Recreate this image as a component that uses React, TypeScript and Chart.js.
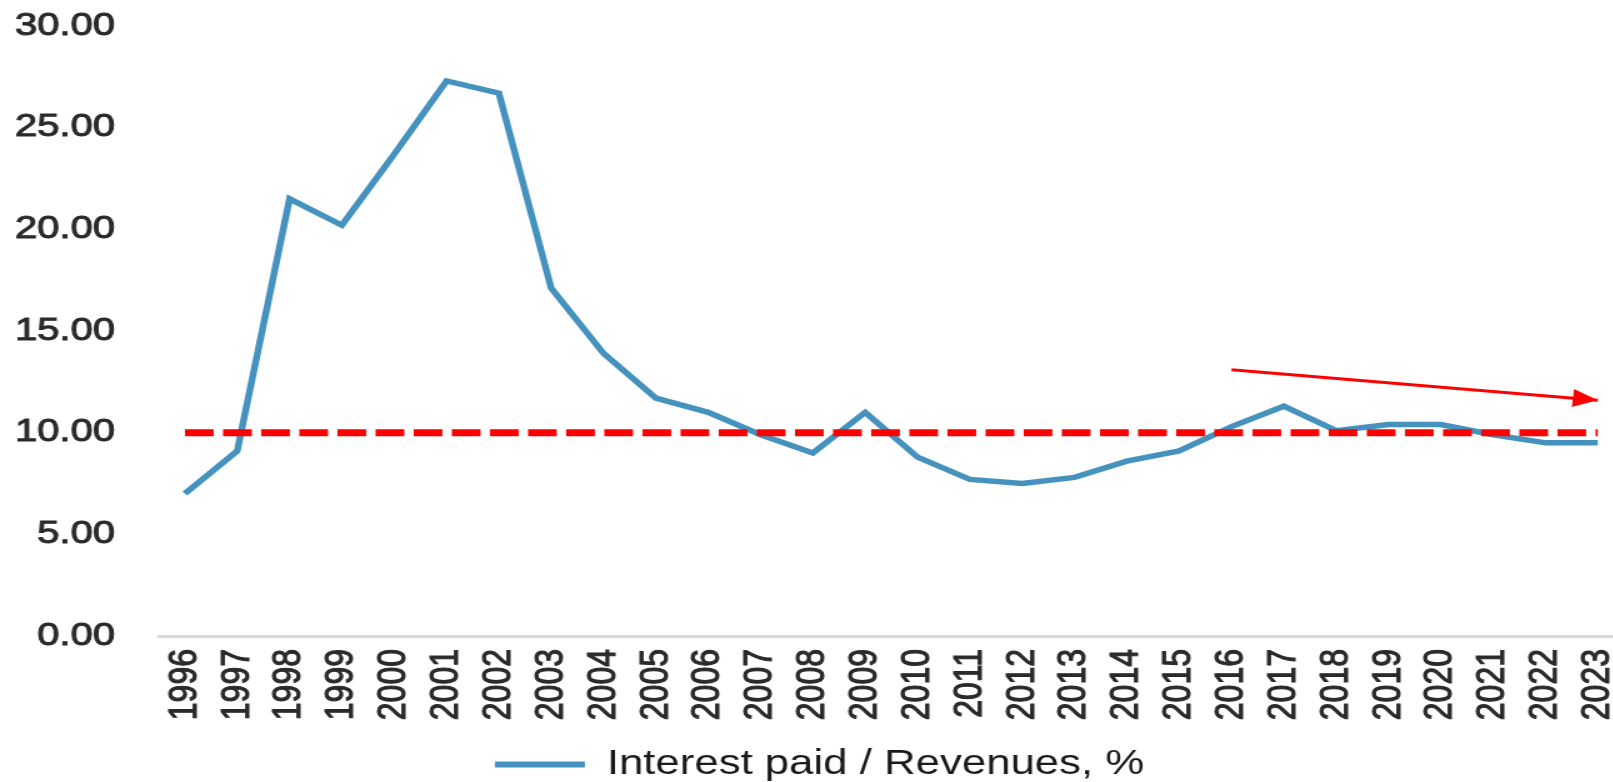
import React, { useEffect, useRef } from 'react';
import { Chart, registerables } from 'chart.js';

Chart.register(...registerables);

// ---- data ----
const years = [
  '1996', '1997', '1998', '1999', '2000', '2001', '2002', '2003', '2004', '2005',
  '2006', '2007', '2008', '2009', '2010', '2011', '2012', '2013', '2014', '2015',
  '2016', '2017', '2018', '2019', '2020', '2021', '2022', '2023',
];
const interestToRevenues = [
  7.0, 9.1, 21.5, 20.2, 23.7, 27.3, 26.7, 17.1, 13.9, 11.7,
  11.0, 9.9, 9.0, 11.0, 8.8, 7.7, 7.5, 7.8, 8.6, 9.1,
  10.3, 11.3, 10.1, 10.4, 10.4, 9.9, 9.5, 9.5,
];
const seriesLabel = 'Interest paid / Revenues, %';
const thresholdValue = 10;
const trendArrowYears = ['2016', '2023'];
const trendArrowValues = [13.1, 11.6];
const yAxisMin = 0;
const yAxisMax = 30;
const yAxisStep = 5;

// ---- styles ----
const BLUE = '#4592be';
const RED = '#ff0000';
const STRETCH = 1.25;
const CANVAS_W = 1330;
const CANVAS_H = 782;
const FONT = "'Liberation Sans', Arial, sans-serif";
const TEXT = '#2a2a2a';

const thresholdData = years.map(() => thresholdValue);
const arrowData = years.map((y) => {
  const k = trendArrowYears.indexOf(y);
  return k >= 0 ? trendArrowValues[k] : null;
});

const arrowHeadPlugin = {
  id: 'arrowHead',
  afterDatasetsDraw(chart: any) {
    const idx = chart.data.datasets.findIndex((d: any) => d.label === 'trend');
    if (idx < 0) return;
    const ds = chart.data.datasets[idx];
    const meta = chart.getDatasetMeta(idx);
    const pts = meta.data.filter((_p: any, i: number) => ds.data[i] != null);
    if (pts.length < 2) return;
    const a = pts[0];
    const b = pts[pts.length - 1];
    const ang = Math.atan2(b.y - a.y, b.x - a.x);
    const L = 20;
    const W = 9;
    const ctx = chart.ctx;
    ctx.save();
    ctx.fillStyle = RED;
    ctx.beginPath();
    ctx.moveTo(b.x, b.y);
    ctx.lineTo(b.x - L * Math.cos(ang) + W * Math.sin(ang), b.y - L * Math.sin(ang) - W * Math.cos(ang));
    ctx.lineTo(b.x - L * Math.cos(ang) - W * Math.sin(ang), b.y - L * Math.sin(ang) + W * Math.cos(ang));
    ctx.closePath();
    ctx.fill();
    ctx.restore();
  },
};

export default function App() {
  const canvasRef = useRef<HTMLCanvasElement | null>(null);

  useEffect(() => {
    if (!canvasRef.current) return;
    const chart = new Chart(canvasRef.current, {
      type: 'line',
      data: {
        labels: years,
        datasets: [
          {
            label: 'trend',
            data: arrowData,
            borderColor: RED,
            borderWidth: 3,
            pointRadius: 0,
            spanGaps: true,
            order: 0,
          },
          {
            label: 'threshold',
            data: thresholdData,
            borderColor: RED,
            borderWidth: 7,
            borderDash: [23, 7.5],
            pointRadius: 0,
            order: 1,
          },
          {
            label: seriesLabel,
            data: interestToRevenues,
            borderColor: BLUE,
            backgroundColor: BLUE,
            borderWidth: 5.5,
            pointRadius: 0,
            tension: 0,
            order: 2,
          },
        ],
      },
      options: {
        responsive: false,
        animation: false,
        layout: { padding: { left: 2, right: 20.7, top: 26, bottom: -10 } },
        plugins: {
          tooltip: { enabled: false },
          legend: {
            display: true,
            position: 'bottom',
            labels: {
              filter: (item: any) => item.text === seriesLabel,
              usePointStyle: true,
              pointStyle: 'line',
              pointStyleWidth: 72,
              boxHeight: 35,
              padding: 3,
              color: '#1a1a1a',
              font: { family: FONT, size: 35 },
              generateLabels: (chart: any) => {
                const items = Chart.defaults.plugins.legend.labels.generateLabels(chart);
                return items.map((it: any) => ({ ...it, lineWidth: 6, pointStyle: 'line' }));
              },
            },
          },
        },
        scales: {
          x: {
            type: 'category',
            offset: true,
            grid: { display: false, drawTicks: false },
            border: { display: true, color: '#d9d9d9', width: 3 },
            ticks: {
              minRotation: 90,
              maxRotation: 90,
              autoSkip: false,
              padding: 13,
              color: TEXT,
              textStrokeColor: TEXT,
              textStrokeWidth: 1,
              font: { family: FONT, size: 32 },
            },
            afterFit: (s: any) => {
              s.height = 108;
            },
          },
          y: {
            min: yAxisMin,
            max: yAxisMax,
            grid: { display: false, drawTicks: false },
            border: { display: false },
            ticks: {
              stepSize: yAxisStep,
              padding: 35,
              color: TEXT,
              textStrokeColor: TEXT,
              textStrokeWidth: 1,
              font: { family: FONT, size: 32 },
              callback: (v: any) => Number(v).toFixed(2),
            },
            afterFit: (s: any) => {
              s.width = 125;
              s.paddingTop = 16;
              s.paddingBottom = 16;
            },
          },
        },
      },
      plugins: [arrowHeadPlugin],
    });
    return () => chart.destroy();
  }, []);

  return (
    <div
      style={{
        position: 'fixed',
        left: 0,
        top: 0,
        width: 1613,
        height: 782,
        overflow: 'hidden',
        background: '#ffffff',
      }}
    >
      <div
        style={{
          width: CANVAS_W,
          height: CANVAS_H,
          transform: `scaleX(${STRETCH})`,
          transformOrigin: '0 0',
        }}
      >
        <canvas ref={canvasRef} width={CANVAS_W} height={CANVAS_H} />
      </div>
    </div>
  );
}
